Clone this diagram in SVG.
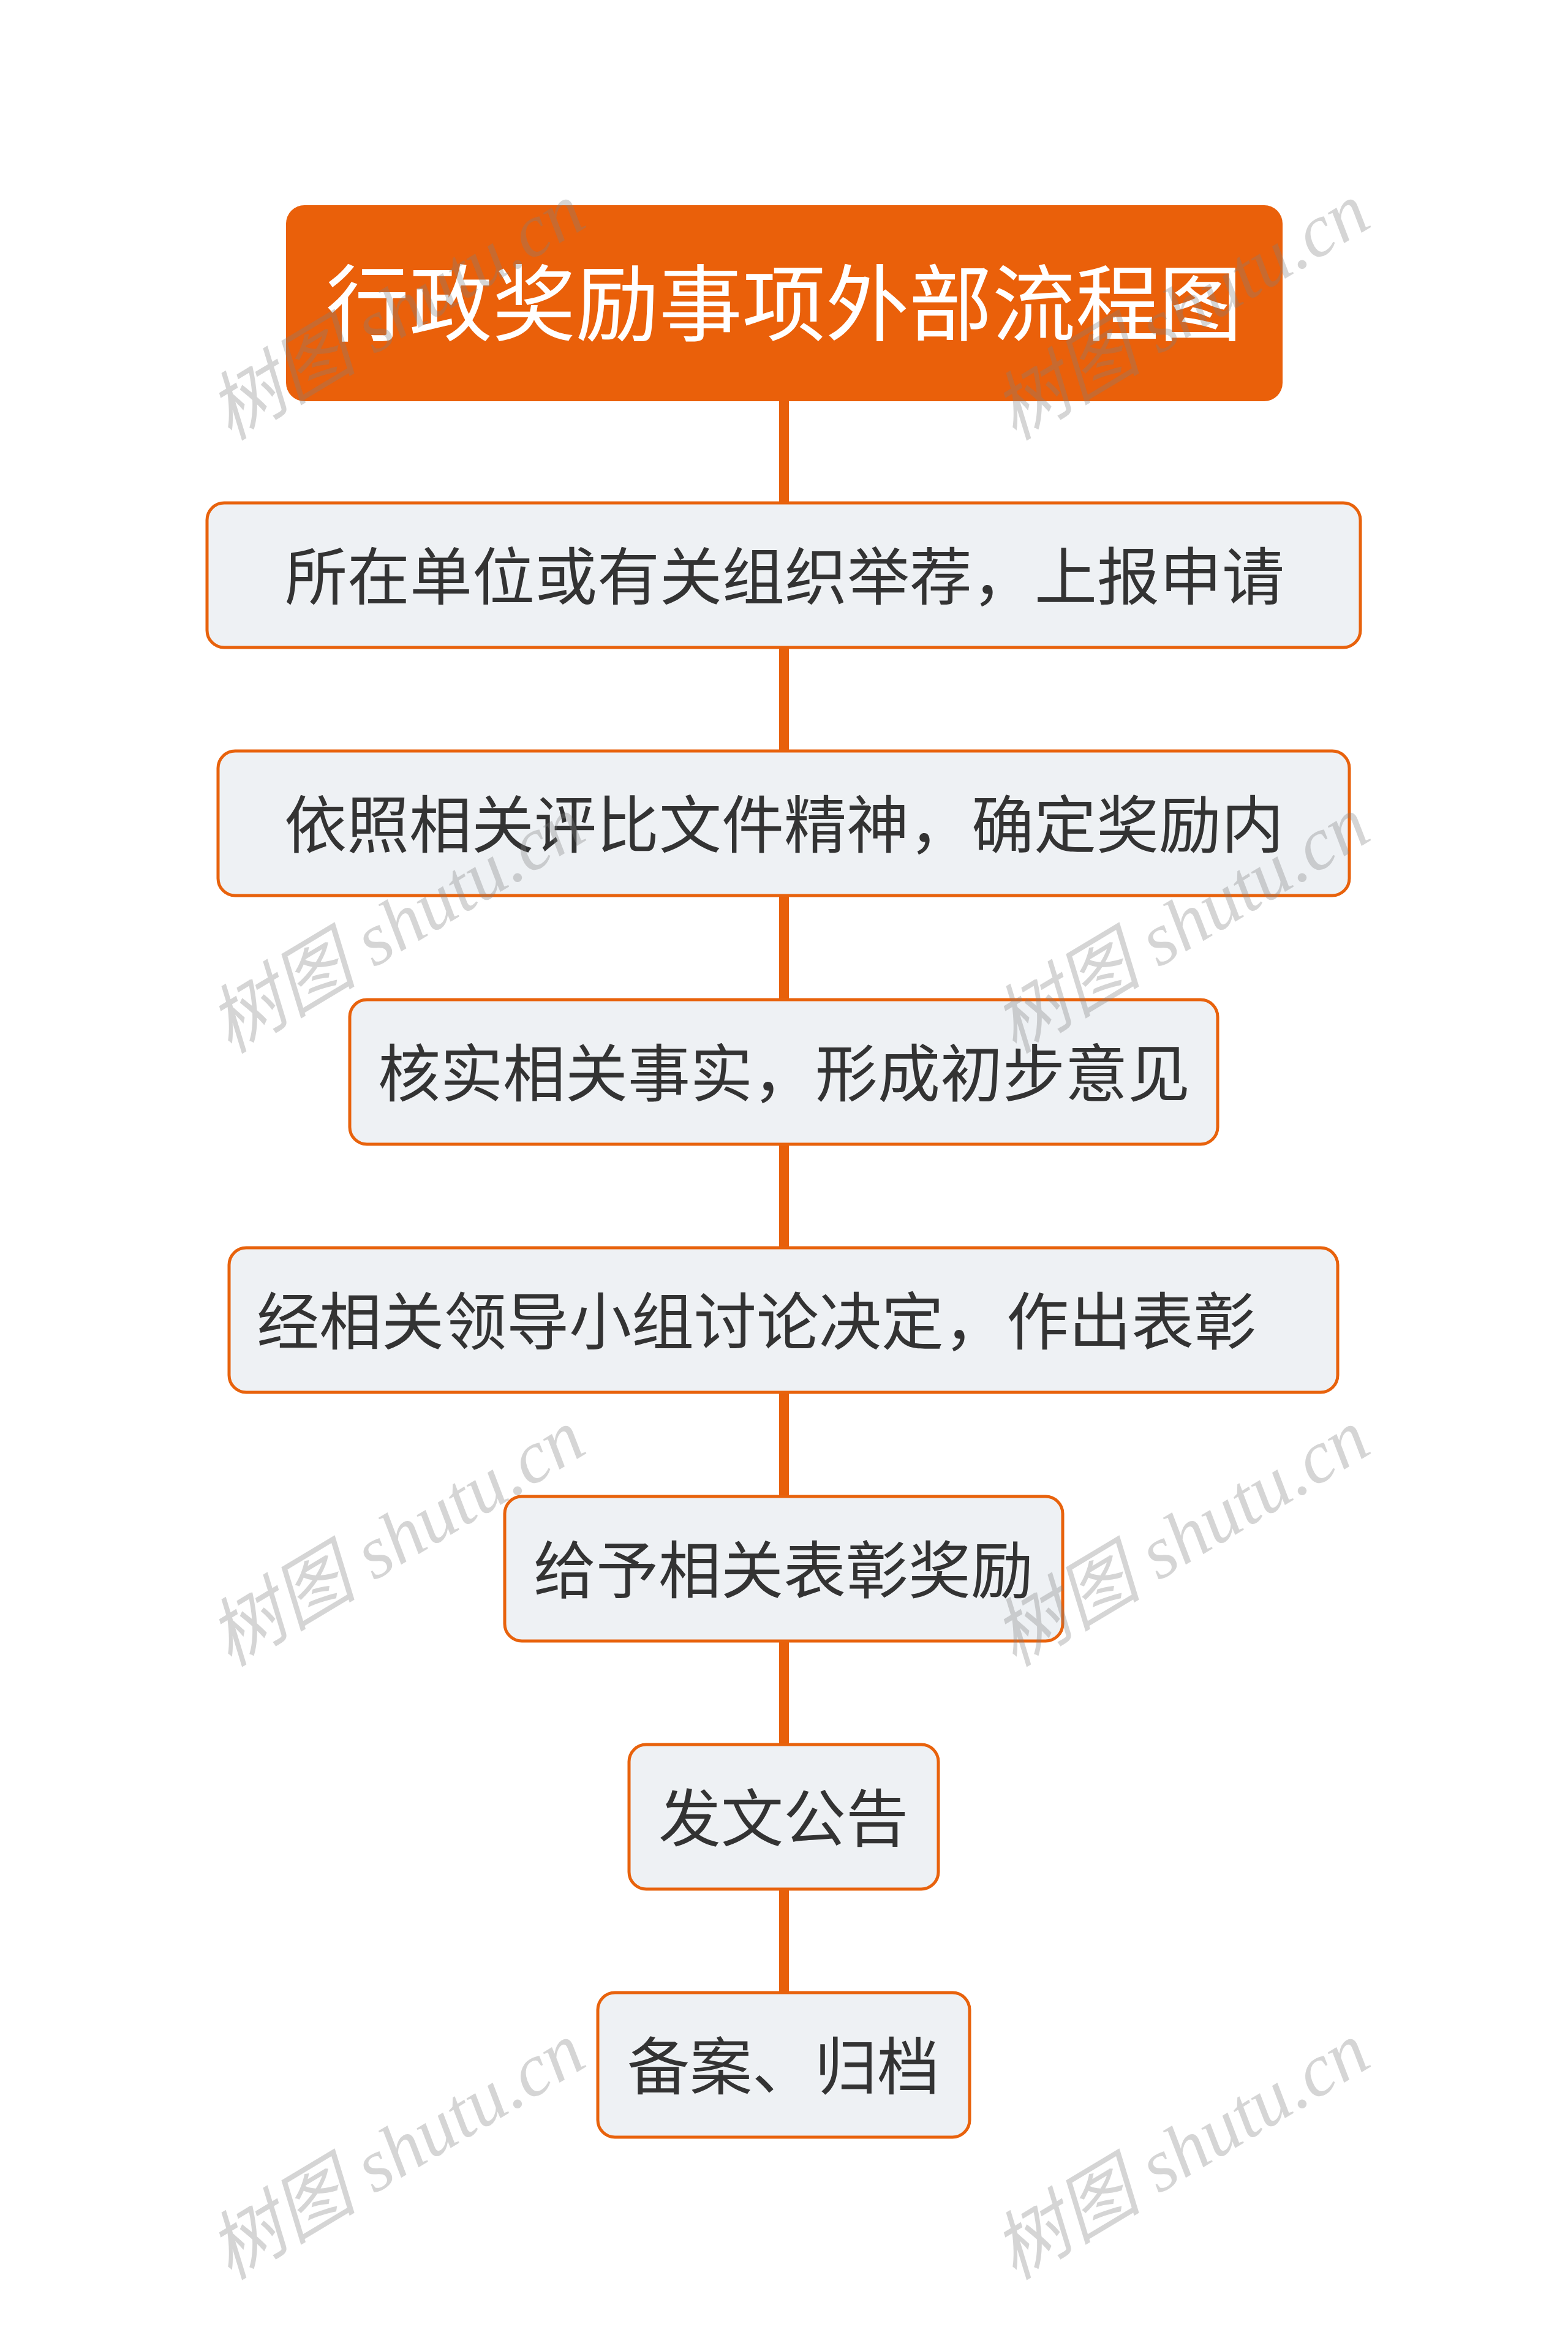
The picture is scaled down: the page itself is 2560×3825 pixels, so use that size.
<svg xmlns="http://www.w3.org/2000/svg" width="2560" height="3825" viewBox="0 0 2560 3825">
<style>
.node rect{fill:#EEF1F4;stroke:#E8620C;stroke-width:5}
.node text{font-family:"Noto Sans CJK SC","Noto Sans",sans-serif;font-size:102px;fill:#333333;text-anchor:middle;dominant-baseline:central}
.title rect{fill:#EA600A}
.title text{font-family:"Noto Sans CJK SC","Noto Sans",sans-serif;font-size:136px;fill:#FFFFFF;text-anchor:middle;dominant-baseline:central}
.conn line{stroke:#E8600A;stroke-width:16}
.wm{font-family:"Liberation Serif","Noto Sans CJK SC",serif;font-style:italic;font-size:122px;fill:#7f7f7f;fill-opacity:0.33;text-anchor:middle}
</style>
<rect width="2560" height="3825" fill="#FFFFFF"/>
<g id="connectors" class="conn">
<line x1="1280" y1="650" x2="1280" y2="824"/>
<line x1="1280" y1="1054" x2="1280" y2="1229"/>
<line x1="1280" y1="1459" x2="1280" y2="1635"/>
<line x1="1280" y1="1865" x2="1280" y2="2040"/>
<line x1="1280" y1="2270" x2="1280" y2="2446"/>
<line x1="1280" y1="2676" x2="1280" y2="2851"/>
<line x1="1280" y1="3081" x2="1280" y2="3256"/>
</g>
<g id="title" class="title">
<rect x="467" y="335" width="1627" height="320" rx="30"/>
<text x="1280" y="486">行政奖励事项外部流程图</text>
</g>
<g id="n1" class="node">
<rect x="338" y="821" width="1883" height="236" rx="28"/>
<text x="1281" y="934">所在单位或有关组织举荐，上报申请</text>
</g>
<g id="n2" class="node">
<rect x="356" y="1226" width="1847" height="236" rx="28"/>
<text x="1280" y="1339">依照相关评比文件精神，确定奖励内</text>
</g>
<g id="n3" class="node">
<rect x="571" y="1632" width="1417" height="236" rx="28"/>
<text x="1280" y="1745">核实相关事实，形成初步意见</text>
</g>
<g id="n4" class="node">
<rect x="374" y="2037" width="1810" height="236" rx="28"/>
<text x="1235" y="2150">经相关领导小组讨论决定，作出表彰</text>
</g>
<g id="n5" class="node">
<rect x="824" y="2443" width="911" height="236" rx="28"/>
<text x="1279" y="2556">给予相关表彰奖励</text>
</g>
<g id="n6" class="node">
<rect x="1027" y="2848" width="505" height="236" rx="28"/>
<text x="1279" y="2961">发文公告</text>
</g>
<g id="n7" class="node">
<rect x="976" y="3253" width="607" height="236" rx="28"/>
<text x="1279" y="3366">备案、归档</text>
</g>
<g id="watermarks">
<text class="wm" transform="translate(647,508) rotate(-31)" x="0" y="42">树图 shutu.cn</text>
<text class="wm" transform="translate(1928,508) rotate(-31)" x="0" y="42">树图 shutu.cn</text>
<text class="wm" transform="translate(647,1509) rotate(-31)" x="0" y="42">树图 shutu.cn</text>
<text class="wm" transform="translate(1928,1509) rotate(-31)" x="0" y="42">树图 shutu.cn</text>
<text class="wm" transform="translate(647,2510) rotate(-31)" x="0" y="42">树图 shutu.cn</text>
<text class="wm" transform="translate(1928,2510) rotate(-31)" x="0" y="42">树图 shutu.cn</text>
<text class="wm" transform="translate(647,3511) rotate(-31)" x="0" y="42">树图 shutu.cn</text>
<text class="wm" transform="translate(1928,3511) rotate(-31)" x="0" y="42">树图 shutu.cn</text>
</g>
</svg>
